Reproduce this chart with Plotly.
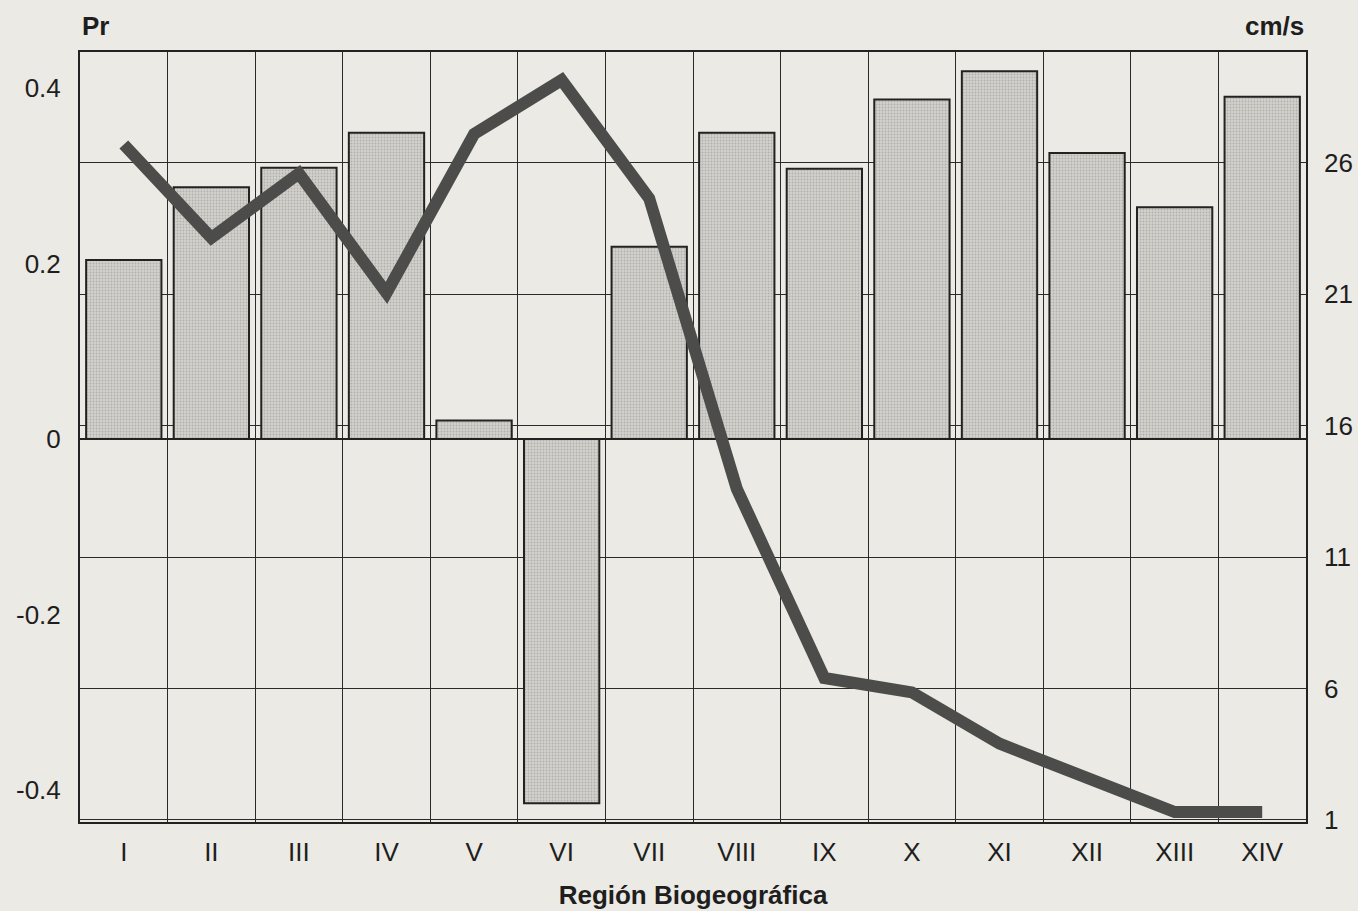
import plotly.graph_objects as go

regiones = ['I', 'II', 'III', 'IV', 'V', 'VI', 'VII', 'VIII', 'IX', 'X', 'XI', 'XII', 'XIII', 'XIV']

# Pr (left axis, bars)
pr = [0.204, 0.287, 0.309, 0.349, 0.021, -0.415, 0.219,
      0.349, 0.308, 0.387, 0.419, 0.326, 0.264, 0.390]

# current speed cm/s (right axis, line)
vel = [26.7, 23.15, 25.6, 21.05, 27.1, 29.15, 24.65,
       13.6, 6.4, 5.85, 3.9, 2.65, 1.3, 1.3]

right_ticks = [1, 6, 11, 16, 21, 26]
left_ticks = [-0.4, -0.2, 0, 0.2, 0.4]
left_labels = ['-0.4', '-0.2', '0', '0.2', '0.4']

bg = '#ebeae4'
ink = '#1e1e1e'
font_main = 'Liberation Sans, Arial, sans-serif'

fig = go.Figure()

fig.add_trace(go.Bar(
    x=regiones, y=pr, yaxis='y',
    width=0.86,
    marker=dict(
        color='#cfcec9',
        line=dict(color='#222222', width=2),
        pattern=dict(shape='.', size=3, solidity=0.3,
                     fgcolor='#8e8e8a', bgcolor='#d2d1cc'),
    ),
    showlegend=False,
))

fig.add_trace(go.Scatter(
    x=regiones, y=vel, yaxis='y2',
    mode='lines',
    line=dict(color='#4c4c4a', width=12),
    showlegend=False,
))

fig.update_layout(
    width=1358, height=911,
    paper_bgcolor=bg, plot_bgcolor=bg,
    margin=dict(l=80, r=52, t=52, b=89),
    font=dict(family=font_main, size=26, color=ink),
    xaxis=dict(
        type='category',
        tickson='boundaries',
        automargin=False,
        showgrid=True, gridcolor='#2a2a2a', gridwidth=1,
        ticks='', ticklen=0,
        showline=True, linecolor='#222222', linewidth=2, mirror=True,
        tickfont=dict(size=26, color=ink),
        ticklabelstandoff=6,
        title=dict(text='<b>Región Biogeográfica</b>', font=dict(size=26), standoff=20),
        range=[-0.5, 13.5],
    ),
    yaxis=dict(
        range=[-0.4365, 0.441],
        automargin=False,
        tickvals=left_ticks, ticktext=left_labels,
        showgrid=False,
        zeroline=True, zerolinecolor='#222222', zerolinewidth=2,
        showline=True, linecolor='#222222', linewidth=2, mirror=True,
        ticks='', ticklen=0,
        tickfont=dict(size=26, color=ink),
        ticklabelstandoff=12,
    ),
    yaxis2=dict(
        overlaying='y', side='right',
        range=[0.92, 30.22],
        automargin=False,
        tickvals=right_ticks,
        showgrid=True, gridcolor='#2a2a2a', gridwidth=1,
        zeroline=False,
        showline=False,
        ticks='', ticklen=0,
        tickfont=dict(size=26, color=ink),
        ticklabelstandoff=17,
    ),
    annotations=[
        dict(text='<b>Pr</b>', x=0, y=1.012, xref='paper', yref='paper',
             xanchor='left', yanchor='bottom', showarrow=False,
             font=dict(size=26)),
        dict(text='<b>cm/s</b>', x=1, y=1.012, xref='paper', yref='paper',
             xanchor='right', yanchor='bottom', showarrow=False,
             font=dict(size=26)),
    ],
)

fig.write_html('out.html', config={'displayModeBar': False},
               post_script="document.body.style.margin='0';")
